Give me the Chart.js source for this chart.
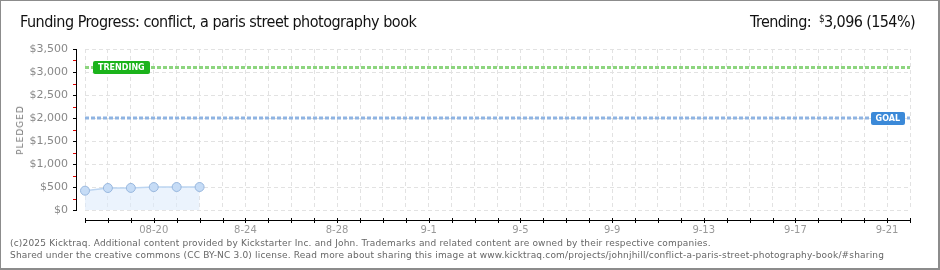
<!DOCTYPE html>
<html>
<head>
<meta charset="utf-8">
<script src="https://cdn.jsdelivr.net/npm/chart.js@4.4.1/dist/chart.umd.min.js"></script>
<style>
  body { margin: 0; background: #fff; }
  #wrap { position: relative; width: 940px; height: 270px; overflow: hidden; }
  #chart { position: absolute; left: 0; top: 0; }
  #frame { position: absolute; left: 0; top: 0; width: 940px; height: 270px; box-sizing: border-box;
           border: 1px solid #8c8c8c; border-right-width: 2px; border-bottom-width: 2px; pointer-events: none; }
  #title { position: absolute; left: 20px; top: 12px; font: 16px "Liberation Sans Narrow", "DejaVu Sans Condensed", sans-serif;
           letter-spacing: -0.5px; color: #111; white-space: nowrap; }
  #trend { position: absolute; right: 25px; top: 12px; font: 16px "Liberation Sans Narrow", "DejaVu Sans Condensed", sans-serif;
           letter-spacing: -0.6px; color: #111; white-space: nowrap; }
  #trend sup { font-size: 10px; vertical-align: 5px; margin-left: 4px; }
  #ytitle { position: absolute; left: 20px; top: 130px; transform: translate(-50%, -50%) rotate(-90deg);
            font: 9px "DejaVu Sans", sans-serif; letter-spacing: 1px; color: #777; white-space: nowrap; }
  #foot { position: absolute; left: 10px; top: 237px; font: 9px "DejaVu Sans", sans-serif; letter-spacing: 0.18px;
          color: #666; line-height: 12px; white-space: nowrap; }
</style>
</head>
<body>
<div id="wrap">
  <canvas id="chart" width="940" height="270"></canvas>
  <div id="title">Funding Progress: conflict, a paris street photography book</div>
  <div id="trend">Trending: <sup>$</sup>3,096 (154%)</div>
  <div id="ytitle">PLEDGED</div>
  <div id="foot">(c)2025 Kicktraq. Additional content provided by Kickstarter Inc. and John. Trademarks and related content are owned by their respective companies.<br>Shared under the creative commons (CC BY-NC 3.0) license. Read more about sharing this image at www.kicktraq.com/projects/johnjhill/conflict-a-paris-street-photography-book/#sharing</div>
  <div id="frame"></div>
</div>
<script>
// campaign days (index 0 = 08-17, last = 09-22)
const days = ["08-17", "08-18", "08-19", "08-20", "08-21", "08-22", "08-23", "08-24", "08-25", "08-26",
              "08-27", "08-28", "08-29", "08-30", "08-31", "09-01", "09-02", "09-03", "09-04", "09-05",
              "09-06", "09-07", "09-08", "09-09", "09-10", "09-11", "09-12", "09-13", "09-14", "09-15",
              "09-16", "09-17", "09-18", "09-19", "09-20", "09-21", "09-22"];

// labels shown under the x axis
const xTickLabels = ["", "", "", "08-20", "", "", "", "8-24", "", "", "", "8-28", "", "", "", "9-1",
                     "", "", "", "9-5", "", "", "", "9-9", "", "", "", "9-13", "", "", "", "9-17",
                     "", "", "", "9-21", ""];

// pledged totals for the days we have
const pledged = [420, 478, 480, 498, 500, 500];

const goal = 2000;
const trending = 3096;
const yTicks = [0, 500, 1000, 1500, 2000, 2500, 3000, 3500];

const pledgedPoints = pledged.map((v, i) => ({ x: i, y: v }));
const lastDay = days.length - 1;

// draw the detached axes and the line badges
const axesPlugin = {
    id: "kicktraqAxes",
    afterDatasetsDraw(chart) {
        const ctx = chart.ctx;
        const x = chart.scales.x;
        const y = chart.scales.y;
        const axisX = x.left - 9;
        const axisY = y.bottom + 10;
        ctx.save();

        // y axis
        ctx.strokeStyle = "#000";
        ctx.lineWidth = 1;
        ctx.beginPath();
        ctx.moveTo(axisX + 0.5, y.getPixelForValue(3500));
        ctx.lineTo(axisX + 0.5, y.getPixelForValue(0) + 1);
        ctx.stroke();
        yTicks.forEach((v) => {
            const py = Math.round(y.getPixelForValue(v)) + 0.5;
            ctx.strokeStyle = "#000";
            ctx.beginPath();
            ctx.moveTo(axisX - 3, py);
            ctx.lineTo(axisX + 1, py);
            ctx.stroke();
            if (v < 3500) {
                const my = Math.round(y.getPixelForValue(v + 250)) + 0.5;
                ctx.strokeStyle = "#e00000";
                ctx.beginPath();
                ctx.moveTo(axisX - 3, my);
                ctx.lineTo(axisX, my);
                ctx.stroke();
            }
        });

        // x axis
        ctx.strokeStyle = "#000";
        ctx.beginPath();
        ctx.moveTo(x.getPixelForValue(0), axisY + 0.5);
        ctx.lineTo(x.getPixelForValue(lastDay) + 1, axisY + 0.5);
        ctx.stroke();
        days.forEach((d, i) => {
            const px = Math.round(x.getPixelForValue(i)) + 0.5;
            ctx.beginPath();
            ctx.moveTo(px, axisY - 2);
            ctx.lineTo(px, axisY + 3);
            ctx.stroke();
        });

        // badges
        drawBadge(ctx, "TRENDING", x.getPixelForValue(0) + 8, y.getPixelForValue(trending), "#1bb31b", false);
        drawBadge(ctx, "GOAL", x.getPixelForValue(lastDay) - 5, y.getPixelForValue(goal), "#3b89d8", true);
        ctx.restore();
    }
};

function drawBadge(ctx, text, x, y, bg, alignRight) {
    ctx.font = "bold 8px 'DejaVu Sans'";
    const w = ctx.measureText(text).width + 10;
    const h = 13;
    const left = alignRight ? x - w : x;
    ctx.fillStyle = bg;
    ctx.beginPath();
    ctx.roundRect(Math.round(left), Math.round(y - h / 2), Math.round(w), h, 2);
    ctx.fill();
    ctx.fillStyle = "#fff";
    ctx.textAlign = "center";
    ctx.textBaseline = "middle";
    ctx.fillText(text, left + w / 2, y + 0.5);
}

const ctx = document.getElementById("chart").getContext("2d");
new Chart(ctx, {
    type: "line",
    data: {
        datasets: [
            {
                label: "Trending",
                data: [{ x: 0, y: trending }, { x: lastDay, y: trending }],
                borderColor: "#8dd57f",
                borderWidth: 3,
                borderDash: [4, 2],
                pointRadius: 0,
                fill: false,
            },
            {
                label: "Goal",
                data: [{ x: 0, y: goal }, { x: lastDay, y: goal }],
                borderColor: "#8fb4e2",
                borderWidth: 3,
                borderDash: [4, 2],
                pointRadius: 0,
                fill: false,
            },
            {
                label: "Pledged",
                data: pledgedPoints,
                borderColor: "#bcd5f1",
                borderWidth: 1.5,
                backgroundColor: "rgba(221,235,251,0.6)",
                fill: "origin",
                pointRadius: 4.5,
                pointBackgroundColor: "#c6dcf6",
                pointBorderColor: "#98b7de",
                pointBorderWidth: 1,
                clip: false,
            },
        ],
    },
    options: {
        responsive: false,
        animation: false,
        layout: { padding: { top: 49, right: 30, left: 0, bottom: 0 } },
        plugins: { legend: { display: false }, tooltip: { enabled: false } },
        scales: {
            x: {
                type: "linear",
                min: 0,
                max: lastDay,
                afterFit: (s) => { s.height = 60; },
                grid: { color: "#e2e2e2", drawTicks: false },
                border: { display: false, dash: [4, 3] },
                ticks: {
                    stepSize: 1,
                    autoSkip: false,
                    maxRotation: 0,
                    padding: 14,
                    color: "#999",
                    font: { family: "'DejaVu Sans'", size: 10 },
                    callback: (v) => xTickLabels[v] || "",
                },
            },
            y: {
                min: 0,
                max: 3500,
                afterFit: (s) => { s.width = 85; },
                grid: { color: "#e2e2e2", drawTicks: false },
                border: { display: false, dash: [4, 3] },
                ticks: {
                    stepSize: 500,
                    padding: 17,
                    color: "#888",
                    font: { family: "'DejaVu Sans'", size: 11 },
                    callback: (v) => "$" + v.toLocaleString("en-US"),
                },
            },
        },
    },
    plugins: [axesPlugin],
});
</script>
</body>
</html>
